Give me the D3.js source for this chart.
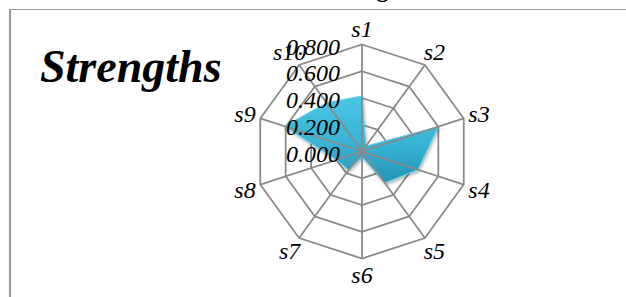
<!DOCTYPE html>
<html lang="en">
    <head>
        <title>Strengths radar</title>
        <script src="https://d3js.org/d3.v7.min.js"></script>
        <style>
            body { margin: 0; background: #fff; }
        </style>
    </head>
    <body>
    <div id="mainDiv"></div>
        <script type="text/javascript">
            const width = 626
            const height = 297
            const serif = '"Times New Roman", "Liberation Serif", "DejaVu Serif", serif'

            const categories = ['s1', 's2', 's3', 's4', 's5', 's6', 's7', 's8', 's9', 's10']
            const values = [0.415, 0.05, 0.60, 0.44, 0.29, 0.04, 0.17, 0.20, 0.61, 0.45]
            const ticks = [0, 0.2, 0.4, 0.6, 0.8]
            const tickLabels = ['0.000', '0.200', '0.400', '0.600', '0.800']

            const center = { x: 362, y: 151.5 }
            const radius = 107

            const svg = d3.select('#mainDiv').append('svg')
                .attr('width', width)
                .attr('height', height)
                .style('font-family', serif)

            const defs = svg.append('defs')
            const grad = defs.append('linearGradient')
                .attr('id', 'fillGrad')
                .attr('x1', '0%').attr('y1', '0%')
                .attr('x2', '0%').attr('y2', '100%')
            grad.append('stop').attr('offset', '0%').attr('stop-color', '#4cc6e4')
            grad.append('stop').attr('offset', '60%').attr('stop-color', '#35b1d3')
            grad.append('stop').attr('offset', '100%').attr('stop-color', '#2593b3')

            const shadow = defs.append('filter').attr('id', 'shadow')
                .attr('x', '-20%').attr('y', '-20%').attr('width', '140%').attr('height', '140%')
            shadow.append('feDropShadow')
                .attr('dx', 1).attr('dy', 2).attr('stdDeviation', 1.5)
                .attr('flood-color', '#000').attr('flood-opacity', 0.3)

            // chart title, mostly above the visible area
            svg.append('text')
                .attr('x', 370)
                .attr('y', -3)
                .attr('text-anchor', 'middle')
                .style('font-size', '24px')
                .style('font-weight', 'bold')
                .text('Strengths')

            // frame
            svg.append('line')
                .attr('x1', 9).attr('x2', width)
                .attr('y1', 9.5).attr('y2', 9.5)
                .attr('stroke', '#9a9a9a').attr('stroke-width', 1)
            svg.append('line')
                .attr('x1', 10).attr('x2', 10)
                .attr('y1', 9).attr('y2', height)
                .attr('stroke', '#9a9a9a').attr('stroke-width', 2)

            svg.append('text')
                .attr('x', 40)
                .attr('y', 82)
                .style('font-size', '46px')
                .style('font-weight', 'bold')
                .style('font-style', 'italic')
                .text('Strengths')

            const rScale = d3.scaleLinear().domain([0, 0.8]).range([0, radius])
            const angle = d3.scaleBand().domain(categories).range([0, 2 * Math.PI]).paddingInner(0).align(0)
            const ang = d => angle(d)

            const group = svg.append('g')
                .attr('transform', `translate(${center.x}, ${center.y})`)

            const gridLine = d3.lineRadial().curve(d3.curveLinearClosed)

            // rings
            group.selectAll('.ring')
                .data(ticks.filter(t => t > 0))
                .enter()
                .append('path')
                .attr('class', 'ring')
                .attr('d', t => gridLine(categories.map(c => [ang(c), rScale(t)])))
                .attr('fill', 'none')
                .attr('stroke', '#8a8a8a')
                .attr('stroke-width', 1.8)

            // polygon
            const area = d3.lineRadial().curve(d3.curveLinearClosed)
            group.append('path')
                .attr('d', area(categories.map((c, i) => [ang(c), rScale(values[i])])))
                .attr('fill', 'url(#fillGrad)')
                .attr('stroke', '#5fd0ea')
                .attr('stroke-width', 1)
                .attr('stroke-linejoin', 'round')
                .attr('filter', 'url(#shadow)')

            // spokes
            group.selectAll('.spoke')
                .data(categories)
                .enter()
                .append('line')
                .attr('class', 'spoke')
                .attr('x1', 0).attr('y1', 0)
                .attr('x2', c => rScale(0.8) * Math.sin(ang(c)))
                .attr('y2', c => -rScale(0.8) * Math.cos(ang(c)))
                .attr('stroke', '#8a8a8a')
                .attr('stroke-width', 1.8)

            // category labels
            group.selectAll('.cat')
                .data(categories)
                .enter()
                .append('text')
                .attr('class', 'cat')
                .attr('x', c => (radius + 16) * Math.sin(ang(c)))
                .attr('y', c => -(radius + 16) * Math.cos(ang(c)))
                .attr('text-anchor', 'middle')
                .attr('dominant-baseline', 'central')
                .style('font-size', '24px')
                .style('font-style', 'italic')
                .text(c => c)

            // tick labels
            group.selectAll('.tick')
                .data(ticks)
                .enter()
                .append('text')
                .attr('class', 'tick')
                .attr('x', -22)
                .attr('y', t => -rScale(t) + 2)
                .attr('text-anchor', 'end')
                .attr('dominant-baseline', 'central')
                .style('font-size', '24px')
                .style('font-style', 'italic')
                .text((t, i) => tickLabels[i])
        </script>
    </body>
</html>
